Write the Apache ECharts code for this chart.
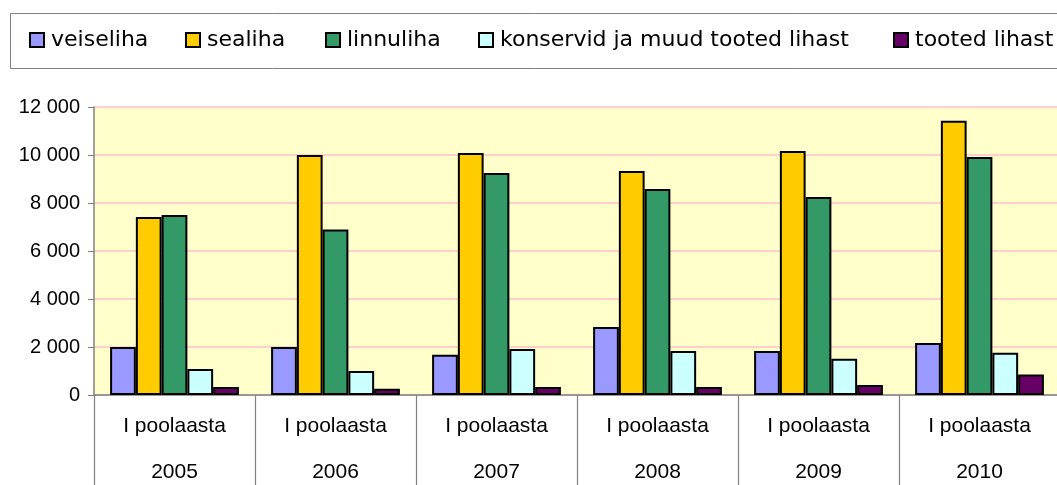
<!DOCTYPE html>
<html>
<head>
<meta charset="utf-8">
<script src="https://cdn.jsdelivr.net/npm/echarts@6/dist/echarts.min.js"></script>
<style>
  html, body { margin: 0; padding: 0; background: #fff; }
  #chart { width: 1057px; height: 485px; }
</style>
</head>
<body>
<div id="chart"></div>
<script>
const years = ['2005', '2006', '2007', '2008', '2009', '2010'];
const periodLabel = 'I poolaasta';

const seriesNames = ['veiseliha', 'sealiha', 'linnuliha', 'konservid ja muud tooted lihast', 'tooted lihast'];
const veiseliha = [2000, 2000, 1680, 2830, 1830, 2170];
const sealiha = [7420, 10000, 10080, 9330, 10170, 11430];
const linnuliha = [7500, 6900, 9250, 8580, 8250, 9920];
const konservid = [1080, 1000, 1920, 1830, 1510, 1760];
const tootedLihast = [330, 260, 330, 330, 420, 850];

const yTicks = [0, 2000, 4000, 6000, 8000, 10000, 12000];

const colors = ['#9999FF', '#FFCC00', '#339966', '#CCFFFF', '#660066'];
const seriesData = [veiseliha, sealiha, linnuliha, konservid, tootedLihast];
// legend item x positions, the legend is not evenly spaced in the original
const legendLeft = [29, 185, 325, 478, 893];

const chart = echarts.init(document.getElementById('chart'));

const formatThousands = (v) => String(v).replace(/\B(?=(\d{3})+(?!\d))/g, ' ');

const option = {
  animation: false,
  textStyle: { fontFamily: 'Liberation Sans, Arial, sans-serif' },
  graphic: [
    {
      type: 'rect',
      shape: { x: 10.5, y: 13.5, width: 1100, height: 55 },
      style: { fill: 'none', stroke: '#808080', lineWidth: 1 },
      z: 0,
    },
  ],
  legend: seriesNames.map((name, i) => ({
    data: [name],
    left: legendLeft[i],
    top: 29,
    padding: 0,
    icon: 'rect',
    itemWidth: 14,
    itemHeight: 14,
    selectedMode: false,
    textStyle: {
      fontFamily: 'DejaVu Sans',
      fontSize: 22,
      color: '#000',
      padding: [0, 0, 0, 2],
    },
  })),
  grid: {
    left: 94,
    top: 107,
    width: 966,
    bottom: 90,
    outerBoundsMode: 'none',
    containLabel: false,
    show: true,
    backgroundColor: '#FFFFCC',
    borderWidth: 0,
  },
  xAxis: {
    type: 'category',
    data: years,
    axisLine: { show: true, lineStyle: { color: '#808080', width: 1.5 } },
    axisTick: { show: true, interval: 0, length: 95, lineStyle: { color: '#808080', width: 1.2 } },
    axisLabel: {
      interval: 0,
      margin: 8,
      fontSize: 21,
      lineHeight: 46,
      color: '#000',
      formatter: (v) => periodLabel + '\n' + v,
    },
  },
  yAxis: {
    type: 'value',
    min: yTicks[0],
    max: yTicks[yTicks.length - 1],
    interval: 2000,
    axisLine: { show: true, lineStyle: { color: '#808080', width: 1.5 } },
    axisTick: { show: true, length: 6, lineStyle: { color: '#808080' } },
    axisLabel: {
      fontSize: 20,
      color: '#000',
      margin: 14,
      formatter: formatThousands,
    },
    splitLine: { lineStyle: { color: '#FFC0CB', width: 1.5 } },
  },
  series: seriesNames.map((name, i) => ({
    name: name,
    type: 'bar',
    data: seriesData[i],
    barGap: 0,
    barCategoryGap: '20%',
    itemStyle: {
      color: colors[i],
      borderColor: '#000',
      borderWidth: 2,
    },
  })),
};

chart.setOption(option);
</script>
</body>
</html>
